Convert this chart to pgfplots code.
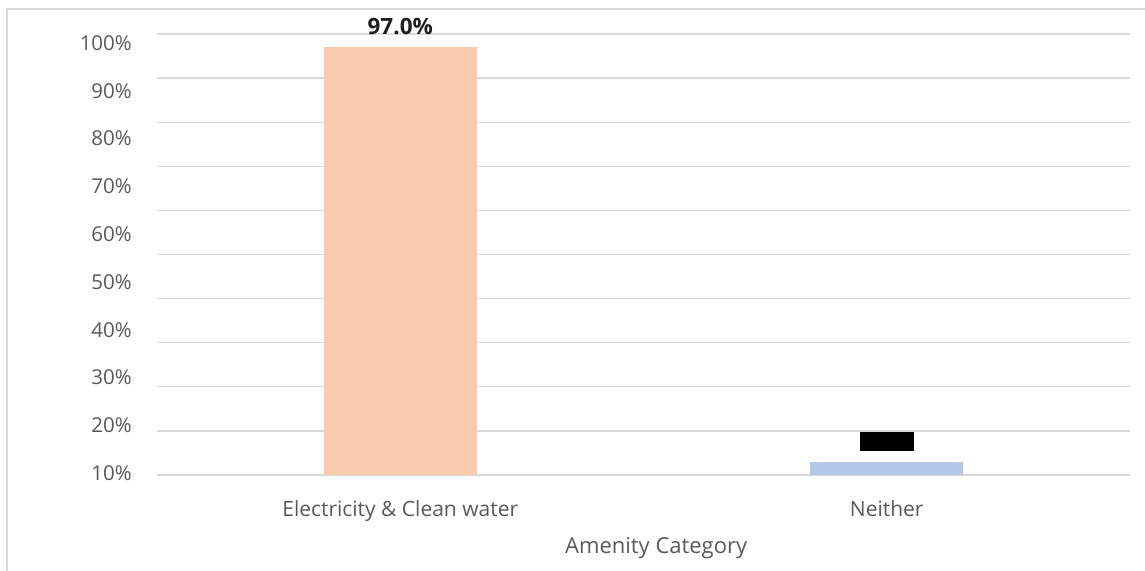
\documentclass[border=0pt]{standalone}
\usepackage{pgfplots}
\pgfplotsset{compat=1.18}
\usepackage{fontspec}
\setmainfont{Open Sans}

\definecolor{gridgray}{HTML}{D9D9D9}
\definecolor{labelgray}{HTML}{595959}
\definecolor{valuedark}{HTML}{1F1F1F}
\definecolor{peach}{HTML}{F8CBAD}
\definecolor{paleblue}{HTML}{B4C7E7}

\begin{document}
\begin{tikzpicture}
  % page extent and chart frame
  \path[use as bounding box] (0,0) rectangle (1145pt,570pt);
  \draw[gridgray, line width=1.5pt] (7pt,-5pt) -- (7pt,561pt) -- (1150pt,561pt);

  \begin{axis}[
    at={(157pt,95pt)}, anchor=south west,
    scale only axis,
    width=973pt, height=441pt,
    xmin=-0.5, xmax=1.5,
    ymin=0, ymax=100,
    axis line style={draw=none},
    major tick length=0pt,
    xtick={0,1},
    xticklabels={Electricity \& Clean water, Neither},
    xticklabel style={anchor=base, inner sep=0pt, yshift=-41.7pt,
      font=\fontsize{21}{25}\selectfont, text=labelgray},
    ytick={0,10,...,100},
    yticklabels={},
    ymajorgrids,
    grid style={gridgray, line width=1.3pt},
    extra y ticks={0.45,11.28,22.12,32.95,43.79,54.62,65.46,76.29,87.13,97.96},
    extra y tick labels={10\%,20\%,30\%,40\%,50\%,60\%,70\%,80\%,90\%,100\%},
    extra y tick style={grid=none},
    yticklabel style={anchor=east, inner sep=0pt, xshift=-25pt,
      font=\fontsize{20.5}{24}\selectfont, text=labelgray},
    xlabel={Amenity Category},
    xlabel style={at={(axis description cs:0.513,-0.1769)}, anchor=base,
      inner sep=0pt, font=\fontsize{22}{26}\selectfont, text=labelgray},
    /pgf/number format/assume math mode=true,
    clip=false,
  ]
    % share of households by amenity category
    \addplot[ybar, bar width=153pt, bar shift=0pt, draw=none, fill=peach,
      nodes near coords={\pgfmathprintnumber[fixed,fixed zerofill,precision=1]{\pgfplotspointmeta}\%},
      every node near coord/.append style={anchor=base, yshift=12.5pt,
        inner sep=0pt, text=valuedark, font=\bfseries\fontsize{22.5}{26}\selectfont}]
      coordinates {(0,97.0)};
    \addplot[ybar, bar width=153pt, bar shift=0pt, draw=none, fill=paleblue,
      nodes near coords={\pgfmathprintnumber[fixed,fixed zerofill,precision=1]{\pgfplotspointmeta}\%},
      every node near coord/.append style={anchor=base, yshift=13pt,
        fill=black, text=black, inner xsep=2.5pt, inner ysep=1.5pt,
        font=\bfseries\fontsize{21}{25}\selectfont}]
      coordinates {(1,3.0)};
  \end{axis}
\end{tikzpicture}
\end{document}
